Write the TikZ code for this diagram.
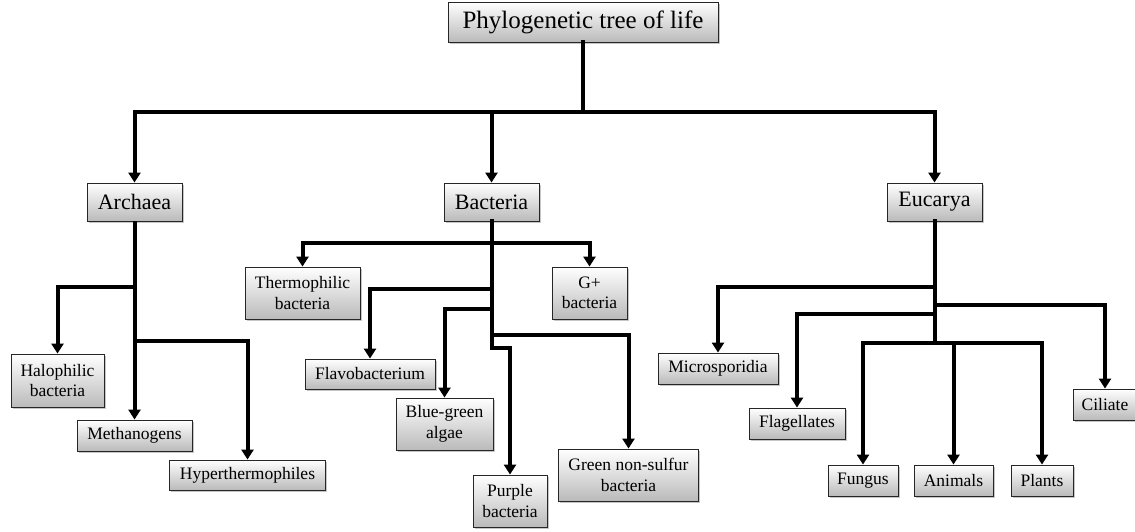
\documentclass[tikz,border=0pt]{standalone}
\usepackage{fontspec}
\setmainfont{Liberation Serif}
\usetikzlibrary{arrows.meta,shadows}
\tikzset{
  box/.style={draw=black!85, line width=0.9pt, top color=white, bottom color=black!27,
    drop shadow={shadow xshift=1.5pt, shadow yshift=-1.5pt, opacity=0.45},
    inner sep=0pt, align=center},
  bigbox/.style={box, font=\fontsize{25}{28}\selectfont},
  midbox/.style={box, font=\fontsize{22}{25}\selectfont},
  leaf/.style={box, font=\fontsize{17.5}{20.5}\selectfont},
  link/.style={line width=4pt, line join=miter, line cap=rect},
  arr/.style={line width=4pt, line join=miter, -{Triangle[width=12pt,length=10pt]}},
}
\begin{document}
\begin{tikzpicture}[x=1pt,y=-1pt]
\useasboundingbox (0,0) rectangle (1135,531);
% nodes
\node[bigbox, minimum width=270pt, minimum height=40pt] (title) at (583,22) {Phylogenetic tree of life};
\node[midbox, minimum width=95pt, minimum height=38pt] (archaea) at (134.5,202) {Archaea};
\node[midbox, minimum width=95pt, minimum height=38pt] (bacteria) at (491.5,202) {Bacteria};
\node[midbox, minimum width=95pt, minimum height=38pt] (eucarya) at (934.5,202) {Eucarya};
% archaea leaves
\node[leaf, minimum width=93pt, minimum height=53pt] (halo) at (57.5,380.5) {Halophilic\\bacteria};
\node[leaf, minimum width=115pt, minimum height=31pt] (metha) at (134.5,435.5) {Methanogens};
\node[leaf, minimum width=156pt, minimum height=30pt] (hyper) at (247.5,475) {Hyperthermophiles};
% bacteria leaves
\node[leaf, minimum width=115pt, minimum height=52pt] (thermo) at (302.5,293) {Thermophilic\\bacteria};
\node[leaf, minimum width=75pt, minimum height=52pt] (gplus) at (589.5,293) {G+\\bacteria};
\node[leaf, minimum width=130pt, minimum height=30pt] (flavo) at (370,374) {Flavobacterium};
\node[leaf, minimum width=97pt, minimum height=52pt] (bluegreen) at (444.5,424) {Blue-green\\algae};
\node[leaf, minimum width=140pt, minimum height=52pt] (green) at (628.5,475) {Green non-sulfur\\bacteria};
\node[leaf, minimum width=74pt, minimum height=52pt] (purple) at (510,501) {Purple\\bacteria};
% eucarya leaves
\node[leaf, minimum width=120pt, minimum height=31pt] (micro) at (718,368.5) {Microsporidia};
\node[leaf, minimum width=64pt, minimum height=31pt] (ciliate) at (1105,404.5) {Ciliate};
\node[leaf, minimum width=96pt, minimum height=31pt] (flag) at (797,423.5) {Flagellates};
\node[leaf, minimum width=70pt, minimum height=31pt] (fungus) at (863,480.5) {Fungus};
\node[leaf, minimum width=79pt, minimum height=31pt] (animals) at (953.5,480.5) {Animals};
\node[leaf, minimum width=62pt, minimum height=31pt] (plants) at (1042,480.5) {Plants};
% branch points
\coordinate (t1) at (583,112);
\coordinate (a1) at (134.5,287);
\coordinate (a2) at (134.5,341);
\coordinate (b1) at (491.5,243);
\coordinate (b2) at (491.5,289);
\coordinate (b3) at (491.5,309);
\coordinate (b4) at (491.5,335);
\coordinate (b5) at (491.5,348);
\coordinate (e1) at (934.5,287);
\coordinate (e2) at (934.5,305);
\coordinate (e3) at (934.5,314);
\coordinate (e4) at (934.5,343);
% top level
\draw[link] (title.south) -- (t1);
\draw[arr] (t1) -| (archaea.north);
\draw[arr] (t1) -| (bacteria.north);
\draw[arr] (t1) -| (eucarya.north);
% archaea
\draw[arr] (archaea.south) -- (metha.north);
\draw[arr] (a1) -| (halo.north);
\draw[arr] (a2) -| (hyper.north);
% bacteria
\draw[link] (bacteria.south) -- (b5);
\draw[arr] (b1) -| (thermo.north);
\draw[arr] (b1) -| (gplus.north);
\draw[arr] (b2) -| (flavo.north);
\draw[arr] (b3) -| (bluegreen.north);
\draw[arr] (b4) -| (green.north);
\draw[arr] (b5) -| (purple.north);
% eucarya
\draw[link] (eucarya.south) -- (e4);
\draw[arr] (e1) -| (micro.north);
\draw[arr] (e2) -| (ciliate.north);
\draw[arr] (e3) -| (flag.north);
\draw[arr] (e4) -| (fungus.north);
\draw[arr] (e4) -| (plants.north);
\draw[arr] (animals.north |- e4) -- (animals.north);
\end{tikzpicture}
\end{document}
